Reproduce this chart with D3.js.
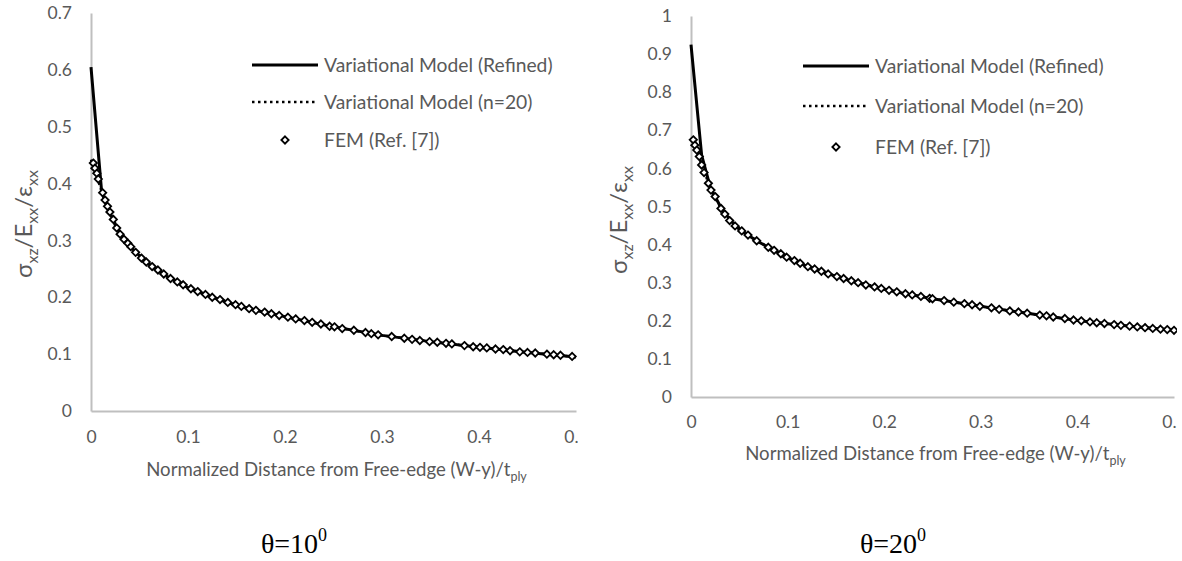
<!DOCTYPE html>
<html>
<head>
<meta charset="utf-8">
<script src="https://cdn.jsdelivr.net/npm/d3@7"></script>
<style>
  body { margin: 0; background: #ffffff; }
  svg { display: block; }
  .lbl { font-family: Lato, "Noto Sans", sans-serif; fill: #595959; }
  .theta { font-family: "Liberation Serif", "DejaVu Serif", serif; fill: #000000; }
</style>
</head>
<body>
<svg id="chart" width="1182" height="561"></svg>
<script>
// ---------- data ----------
const xTickValues = [0, 0.1, 0.2, 0.3, 0.4, 0.5];
const xTickLabels = ["0", "0.1", "0.2", "0.3", "0.4", "0.5"];

const yTickValues10 = [0, 0.1, 0.2, 0.3, 0.4, 0.5, 0.6, 0.7];
const yTickLabels10 = ["0", "0.1", "0.2", "0.3", "0.4", "0.5", "0.6", "0.7"];
const yTickValues20 = [0, 0.1, 0.2, 0.3, 0.4, 0.5, 0.6, 0.7, 0.8, 0.9, 1];
const yTickLabels20 = ["0", "0.1", "0.2", "0.3", "0.4", "0.5", "0.6", "0.7", "0.8", "0.9", "1"];

const seriesNames = ["Variational Model (Refined)", "Variational Model (n=20)", "FEM (Ref. [7])"];
const angleLabels = ["10", "20"];

// theta = 10 deg : [distance, sigma_xz/E_xx/eps_xx]
const refined10 = [[0,0.605],[0.011,0.385],[0.015,0.367],[0.02,0.347],[0.025,0.327],[0.03,0.312],
  [0.035,0.300],[0.04,0.290],[0.05,0.273],[0.06,0.258],[0.07,0.246],[0.08,0.235],[0.09,0.226],
  [0.1,0.217],[0.125,0.200],[0.15,0.186],[0.175,0.175],[0.2,0.166],[0.25,0.148],[0.3,0.133],
  [0.35,0.122],[0.4,0.112],[0.45,0.103],[0.5,0.095]];
const n20_10 = [[0,0.442],[0.005,0.418],[0.011,0.386],[0.015,0.368],[0.02,0.348],[0.03,0.312],
  [0.04,0.290],[0.06,0.258],[0.08,0.235],[0.1,0.217],[0.15,0.186],[0.2,0.166],[0.25,0.148],
  [0.3,0.133],[0.35,0.122],[0.4,0.112],[0.45,0.103],[0.5,0.095]];
const fem10 = [[0.0024,0.436],[0.004,0.427],[0.006,0.418],[0.0075,0.408],[0.012,0.384],[0.0145,0.371],
  [0.017,0.360],[0.0195,0.350],[0.023,0.337],[0.0265,0.322],[0.030,0.311],[0.034,0.302],[0.038,0.295],
  [0.041,0.289],[0.046,0.279],[0.052,0.269],[0.057,0.262],[0.063,0.254],[0.069,0.248],[0.075,0.241],
  [0.082,0.233],[0.089,0.227],[0.095,0.222],[0.103,0.215],[0.110,0.210],[0.118,0.205],[0.125,0.200],
  [0.133,0.196],[0.141,0.191],[0.149,0.187],[0.155,0.184],[0.163,0.180],[0.170,0.177],[0.179,0.174],
  [0.186,0.171],[0.194,0.168],[0.203,0.165],[0.211,0.162],[0.220,0.159],[0.228,0.156],[0.237,0.153],
  [0.246,0.149],[0.251,0.148],[0.259,0.145],[0.271,0.142],[0.283,0.138],[0.289,0.136],[0.296,0.134],
  [0.310,0.131],[0.323,0.128],[0.331,0.126],[0.339,0.124],[0.349,0.122],[0.357,0.121],[0.366,0.119],
  [0.372,0.118],[0.385,0.115],[0.394,0.113],[0.401,0.112],[0.408,0.111],[0.417,0.109],[0.425,0.108],
  [0.432,0.106],[0.442,0.104],[0.450,0.103],[0.458,0.102],[0.470,0.100],[0.477,0.099],[0.484,0.098],
  [0.496,0.096]];

// theta = 20 deg
const refined20 = [[0,0.925],[0.011,0.635],[0.02,0.550],[0.03,0.502],[0.04,0.466],[0.05,0.440],
  [0.06,0.423],[0.07,0.407],[0.08,0.393],[0.1,0.366],[0.12,0.343],[0.14,0.325],[0.16,0.309],
  [0.18,0.295],[0.2,0.283],[0.22,0.272],[0.25,0.258],[0.28,0.246],[0.3,0.238],[0.32,0.230],
  [0.35,0.219],[0.4,0.201],[0.45,0.187],[0.5,0.175]];
const n20_20 = [[0,0.680],[0.005,0.652],[0.011,0.610],[0.02,0.548],[0.03,0.500],[0.04,0.465],
  [0.06,0.423],[0.08,0.393],[0.1,0.366],[0.14,0.325],[0.2,0.283],[0.25,0.258],[0.3,0.238],
  [0.35,0.219],[0.4,0.201],[0.45,0.187],[0.5,0.175]];
const fem20 = [[0.0024,0.675],[0.004,0.661],[0.006,0.648],[0.0086,0.631],[0.011,0.609],[0.0135,0.589],
  [0.018,0.561],[0.0207,0.543],[0.025,0.526],[0.031,0.495],[0.035,0.480],[0.040,0.463],[0.0456,0.449],
  [0.0525,0.436],[0.059,0.425],[0.068,0.410],[0.080,0.393],[0.086,0.385],[0.093,0.376],[0.099,0.367],
  [0.107,0.358],[0.113,0.351],[0.121,0.342],[0.128,0.336],[0.135,0.330],[0.142,0.323],[0.151,0.316],
  [0.158,0.311],[0.166,0.305],[0.173,0.300],[0.181,0.294],[0.190,0.289],[0.197,0.285],[0.205,0.280],
  [0.213,0.276],[0.222,0.271],[0.229,0.268],[0.238,0.264],[0.247,0.259],[0.250,0.258],[0.262,0.253],
  [0.272,0.249],[0.283,0.245],[0.291,0.242],[0.299,0.238],[0.311,0.234],[0.319,0.230],[0.330,0.226],
  [0.339,0.223],[0.348,0.220],[0.361,0.215],[0.368,0.213],[0.375,0.210],[0.387,0.206],[0.396,0.202],
  [0.404,0.200],[0.413,0.197],[0.420,0.195],[0.428,0.193],[0.438,0.190],[0.445,0.188],[0.454,0.186],
  [0.462,0.184],[0.470,0.182],[0.478,0.180],[0.486,0.178],[0.493,0.177],[0.500,0.175]];

// ---------- layout ----------
const svg = d3.select("#chart");
const AXIS_GRAY = "#bfbfbf";

const panels = [
  { id: "p10", clip: [0, 578], left: 91, right: 576, top: 13, bottom: 411, yMax: 0.7,
    yTicks: yTickValues10, yLabels: yTickLabels10,
    refined: refined10, n20: n20_10, fem: fem10, angle: angleLabels[0],
    legendX: 252, legendRows: [65, 102, 140], titleX: 32, titleY: 224,
    xTitleY: 476, xLabelY: 443, thetaX: 294 },
  { id: "p20", clip: [600, 1177], left: 691, right: 1174, top: 16, bottom: 397, yMax: 1,
    yTicks: yTickValues20, yLabels: yTickLabels20,
    refined: refined20, n20: n20_20, fem: fem20, angle: angleLabels[1],
    legendX: 803, legendRows: [66, 106, 147], titleX: 627, titleY: 220,
    xTitleY: 460, xLabelY: 428, thetaX: 893 }
];

const defs = svg.append("defs");

panels.forEach(p => {
  defs.append("clipPath").attr("id", "clip-" + p.id)
    .append("rect").attr("x", p.clip[0]).attr("y", 0)
    .attr("width", p.clip[1] - p.clip[0]).attr("height", 520);

  const g = svg.append("g").attr("clip-path", `url(#clip-${p.id})`);

  const x = d3.scaleLinear().domain([0, 0.5]).range([p.left, p.right]);
  const y = d3.scaleLinear().domain([0, p.yMax]).range([p.bottom, p.top]);

  // axes: bare gray lines, labels only
  const xAxis = d3.axisBottom(x).tickValues(xTickValues)
    .tickFormat((d, i) => xTickLabels[i]).tickSize(0).tickPadding(0);
  const gx = g.append("g").attr("transform", `translate(0,${p.bottom})`).call(xAxis);
  gx.select(".domain").attr("stroke", AXIS_GRAY).attr("stroke-width", 2);
  gx.selectAll(".tick text").attr("class", "lbl").attr("font-size", 17.5)
    .attr("y", p.xLabelY - p.bottom).attr("dy", 0);

  const yAxis = d3.axisLeft(y).tickValues(p.yTicks)
    .tickFormat((d, i) => p.yLabels[i]).tickSize(0).tickPadding(19);
  const gy = g.append("g").attr("transform", `translate(${p.left},0)`).call(yAxis);
  gy.select(".domain").attr("stroke", AXIS_GRAY).attr("stroke-width", 2);
  gy.selectAll(".tick text").attr("class", "lbl").attr("font-size", 17.5);
  gx.attr("font-family", null); gy.attr("font-family", null);

  // series
  const line = d3.line().x(d => x(d[0])).y(d => y(d[1]));
  g.append("path").datum(p.n20).attr("d", line).attr("fill", "none")
    .attr("stroke", "#000").attr("stroke-width", 2.5).attr("stroke-dasharray", "2.5 3.5");
  g.append("path").datum(p.refined).attr("d", line).attr("fill", "none")
    .attr("stroke", "#000").attr("stroke-width", 3).attr("stroke-linejoin", "round");

  const diamond = d3.symbol().type(d3.symbolDiamond2).size(34);
  g.append("g").selectAll("path").data(p.fem).join("path")
    .attr("d", diamond)
    .attr("transform", d => `translate(${x(d[0])},${y(d[1])})`)
    .attr("fill", "#fff").attr("stroke", "#000").attr("stroke-width", 1.8);

  // legend
  const lg = g.append("g");
  const lx0 = p.legendX, lx1 = p.legendX + 66;
  lg.append("line").attr("x1", lx0).attr("x2", lx1)
    .attr("y1", p.legendRows[0]).attr("y2", p.legendRows[0])
    .attr("stroke", "#000").attr("stroke-width", 3);
  lg.append("line").attr("x1", lx0).attr("x2", lx1)
    .attr("y1", p.legendRows[1]).attr("y2", p.legendRows[1])
    .attr("stroke", "#000").attr("stroke-width", 2.5).attr("stroke-dasharray", "2.5 3.5");
  lg.append("path").attr("d", diamond)
    .attr("transform", `translate(${(lx0 + lx1) / 2},${p.legendRows[2]})`)
    .attr("fill", "#fff").attr("stroke", "#000").attr("stroke-width", 1.8);
  seriesNames.forEach((name, i) => {
    lg.append("text").attr("class", "lbl").attr("font-size", 19.3)
      .attr("x", lx1 + 6).attr("y", p.legendRows[i]).attr("dy", "0.35em").text(name);
  });

  // x-axis title
  const xt = g.append("text").attr("class", "lbl").attr("font-size", 18.6)
    .attr("x", (p.left + p.right) / 2 + 3).attr("y", p.xTitleY).attr("text-anchor", "middle");
  xt.append("tspan").text("Normalized Distance from Free-edge (W-y)/t");
  xt.append("tspan").attr("font-size", 12.5).attr("dy", 5).text("ply");

  // y-axis title
  const yt = g.append("text").attr("class", "lbl").attr("font-size", 24)
    .attr("text-anchor", "middle")
    .attr("transform", `translate(${p.titleX},${p.titleY}) rotate(-90)`);
  const parts = [["σ", "xz"], ["/E", "xx"], ["/ε", "xx"]];
  parts.forEach(([main, sub]) => {
    yt.append("tspan").attr("dy", sub === "xz" ? 0 : -6).text(main);
    yt.append("tspan").attr("font-size", 16).attr("dy", 6).text(sub);
  });

  // panel caption below the chart
  const th = svg.append("text").attr("class", "theta").attr("font-size", 28)
    .attr("x", p.thetaX).attr("y", 553).attr("text-anchor", "middle");
  th.append("tspan").text("θ=" + p.angle);
  th.append("tspan").attr("font-size", 18).attr("dy", -12).text("0");
});
</script>
</body>
</html>
